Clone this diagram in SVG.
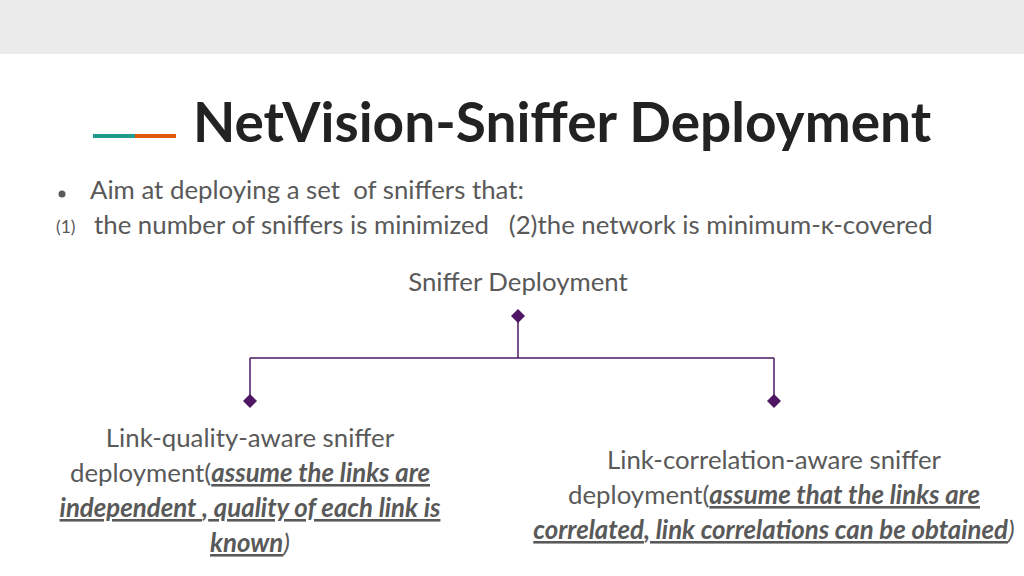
<svg xmlns="http://www.w3.org/2000/svg" width="1024" height="576" viewBox="0 0 1024 576">
<style>
.t{font-family:Lato,"Liberation Sans",sans-serif;fill:#595959;font-size:25.8px}
.c{text-anchor:middle}
.u{font-weight:bold;font-style:italic;text-decoration:underline}
.conn{stroke:#4f1763;stroke-width:1.5;fill:none}
.dia{fill:#4f1763}
</style>
<rect x="0" y="0" width="1024" height="54" fill="#ebebeb"/>
<rect x="0" y="54" width="1024" height="522" fill="#ffffff"/>
<g id="title">
<rect x="93" y="134" width="42" height="4" fill="#1f9b8c"/>
<rect x="135" y="134" width="41" height="4" fill="#e2580f"/>
<text x="193" y="142" font-family="Lato,'Liberation Sans',sans-serif" font-weight="bold" font-size="55" fill="#222222">NetVision-Sniffer Deployment</text>
</g>
<g id="bullets">
<circle cx="62" cy="194" r="3.5" fill="#595959"/>
<text class="t" x="90" y="199" xml:space="preserve">Aim at deploying a set  of sniffers that:</text>
<text class="t" x="56" y="233" style="font-size:17.5px">(1)</text>
<text class="t" x="94" y="234" xml:space="preserve">the number of sniffers is minimized   (2)the network is minimum-κ-covered</text>
</g>
<g id="root">
<text class="t c" x="518" y="291">Sniffer Deployment</text>
</g>
<g id="connectors">
<path class="conn" d="M518 316 V358 M250 358 H774 M250 358 V401 M774 358 V401"/>
<path class="dia" d="M518 309 L525 316 L518 323 L511 316 Z"/>
<path class="dia" d="M250 394 L257 401 L250 408 L243 401 Z"/>
<path class="dia" d="M774 394 L781 401 L774 408 L767 401 Z"/>
</g>
<g id="left">
<text class="t c" x="250" y="447">Link-quality-aware sniffer</text>
<text class="t c" x="250" y="482">deployment(<tspan class="u">assume the links are</tspan></text>
<text class="t c" x="250" y="517" xml:space="preserve"><tspan class="u">independent </tspan><tspan font-weight="bold" font-style="italic">,</tspan><tspan class="u"> quality of each link is</tspan></text>
<text class="t c" x="250" y="552"><tspan class="u">known</tspan><tspan font-style="italic">)</tspan></text>
</g>
<g id="right">
<text class="t c" x="774" y="469">Link-correlation-aware sniffer</text>
<text class="t c" x="774" y="504">deployment(<tspan class="u">assume that the links are</tspan></text>
<text class="t c" x="774" y="539" xml:space="preserve"><tspan class="u">correlated</tspan><tspan font-weight="bold" font-style="italic">,</tspan><tspan class="u"> link correlations can be obtained</tspan><tspan font-style="italic">)</tspan></text>
</g>
</svg>
